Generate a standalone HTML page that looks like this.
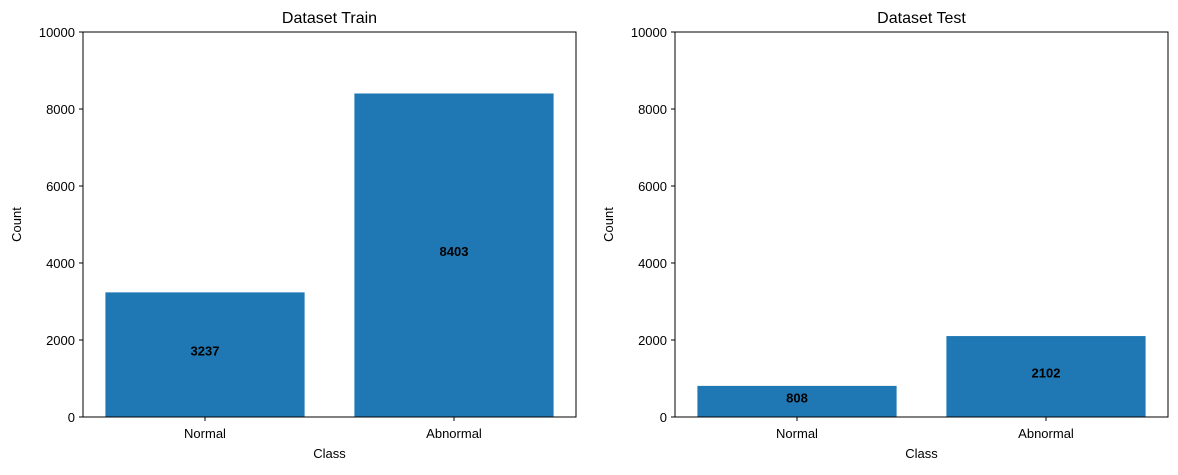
<!DOCTYPE html>
<html><head><meta charset="utf-8"><style>body{margin:0;background:#fff}svg text{font-family:"Liberation Sans","DejaVu Sans",sans-serif}</style></head>
<body>
<svg id="c" width="1178" height="470"></svg>
<script>
const categories = ["Normal", "Abnormal"];
const trainValues = [3237, 8403];
const testValues = [808, 2102];
const yTicks = [0, 2000, 4000, 6000, 8000, 10000];
const titles = ["Dataset Train", "Dataset Test"];
const NS = "http://www.w3.org/2000/svg";
const svg = document.getElementById("c");
function mk(tag, attrs, parent) {
  const e = document.createElementNS(NS, tag);
  for (const k in attrs) e.setAttribute(k, attrs[k]);
  (parent || svg).appendChild(e);
  return e;
}
function panel(x0, values, title, idx) {
  const g = mk("g", {});
  
  
  const x1 = x0 + 493, yTop = 32, yBot = 417;
  const ys = v => yBot - (v / 10000) * (yBot - yTop);
  const xs = v => x0 + (v + 0.49) / 1.98 * (x1 - x0);
  values.forEach((v, i) => {
    const r = mk("rect", {x: xs(i - 0.4), y: ys(v), width: xs(i + 0.4) - xs(i - 0.4), height: yBot - ys(v), fill: "#1f77b4"}, g);
    
    
    const t = mk("text", {x: xs(i), y: ys(v / 2) + 1, "text-anchor": "middle", "font-size": 13, "font-weight": "bold"}, g);
    t.textContent = v;
    
    
    mk("line", {x1: xs(i), x2: xs(i), y1: yBot, y2: yBot + 4, stroke: "#000"}, g);
    const xl = mk("text", {x: xs(i), y: yBot + 21, "text-anchor": "middle", "font-size": 13}, g);
    xl.textContent = categories[i];
    
    
  });
  yTicks.forEach(t => {
    mk("line", {x1: x0 - 4, x2: x0, y1: ys(t), y2: ys(t), stroke: "#000"}, g);
    const tl = mk("text", {x: x0 - 8, y: ys(t) + 5, "text-anchor": "end", "font-size": 13}, g);
    tl.textContent = t;
    
    
  });
  const fr = mk("rect", {x: x0, y: yTop, width: x1 - x0, height: yBot - yTop, fill: "none", stroke: "#000", "stroke-width": 1}, g);
  
  
  const ti = mk("text", {x: (x0 + x1) / 2, y: 23, "text-anchor": "middle", "font-size": 16}, g);
  ti.textContent = title;
  
  
  const xt = mk("text", {x: (x0 + x1) / 2, y: 458, "text-anchor": "middle", "font-size": 13}, g);
  xt.textContent = "Class";
  
  
  const yt = mk("text", {x: 0, y: 0, "text-anchor": "middle", "font-size": 13, transform: `translate(${x0 - 62},${(yTop + yBot) / 2}) rotate(-90)`}, g);
  yt.textContent = "Count";
  
  
}
panel(83, trainValues, titles[0], "train");
panel(675, testValues, titles[1], "test");
</script>
</body></html>
